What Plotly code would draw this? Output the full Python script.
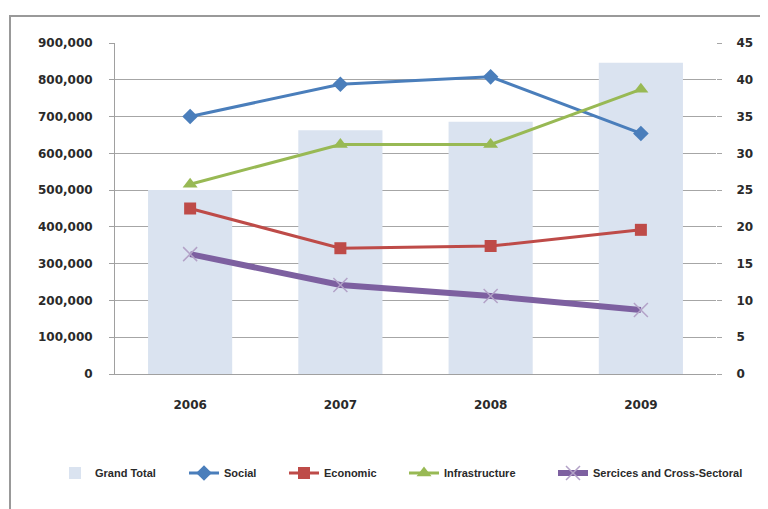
import plotly.graph_objects as go

years = ["2006", "2007", "2008", "2009"]
grand_total = [500000, 663000, 686000, 846000]
social = [35.0, 39.4, 40.4, 32.7]
economic = [22.5, 17.1, 17.4, 19.6]
infrastructure = [25.8, 31.2, 31.2, 38.7]
services = [16.3, 12.1, 10.6, 8.7]

left_ticks = [0, 100000, 200000, 300000, 400000, 500000, 600000, 700000, 800000, 900000]
left_labels = ["0", "100,000", "200,000", "300,000", "400,000", "500,000", "600,000", "700,000", "800,000", "900,000"]
right_ticks = [0, 5, 10, 15, 20, 25, 30, 35, 40, 45]

W, H = 760, 501
L, R, T, B = 107, 52, 35, 135
PW = W - L - R
PH = H - T - B

tick_font = dict(size=12, family="DejaVu Sans", color="#2a2a2a", weight="bold")
leg_font = dict(size=11, family="Liberation Sans, Arial", color="#2a2a2a", weight="bold")


def px_to_paper_x(px):
    return (px - L) / PW


# text start positions of the legend entries (figure pixels)
leg_text_x = [89, 218, 318, 438, 587]
leg_y = (H - B - 465) / PH

fig = go.Figure()
fig.add_trace(go.Bar(x=years, y=grand_total, name="Grand Total",
                     marker=dict(color="#DAE3F0", line=dict(width=0)), width=0.56,
                     legend="legend", showlegend=True))
fig.add_trace(go.Scatter(x=years, y=social, name="Social", yaxis="y2", mode="lines+markers",
                         line=dict(color="#4A7EBB", width=3),
                         marker=dict(symbol="diamond", size=12, color="#4A7EBB"),
                         legend="legend2"))
fig.add_trace(go.Scatter(x=years, y=economic, name="Economic", yaxis="y2", mode="lines+markers",
                         line=dict(color="#BE4B48", width=3),
                         marker=dict(symbol="square", size=12, color="#BE4B48"),
                         legend="legend3"))
fig.add_trace(go.Scatter(x=years, y=infrastructure, name="Infrastructure", yaxis="y2", mode="lines+markers",
                         line=dict(color="#98B954", width=3),
                         marker=dict(symbol="triangle-up", size=13, color="#98B954"),
                         legend="legend4"))
fig.add_trace(go.Scatter(x=years, y=services, name="Sercices and Cross-Sectoral", yaxis="y2", mode="lines+markers",
                         line=dict(color="#7D60A0", width=6),
                         marker=dict(symbol="x-thin", size=14, color="#B3A2C7",
                                     line=dict(width=1.5, color="#B3A2C7")),
                         legend="legend5"))

legends = {}
for i, tx in enumerate(leg_text_x):
    key = "legend" if i == 0 else "legend%d" % (i + 1)
    legends[key] = dict(orientation="h", x=px_to_paper_x(tx - 42), y=leg_y,
                        xanchor="left", yanchor="middle", font=leg_font,
                        bgcolor="rgba(0,0,0,0)", borderwidth=0)

fig.update_layout(
    width=W, height=H,
    showlegend=True,
    margin=dict(l=L, r=R, t=T, b=B),
    paper_bgcolor="white", plot_bgcolor="white",
    font=dict(family="DejaVu Sans", size=11, color="#2a2a2a"),
    xaxis=dict(showgrid=False, showline=True, linecolor="#A0A0A0", ticks="",
               tickfont=tick_font, ticklabelstandoff=20),
    yaxis=dict(range=[0, 900000], tickvals=left_ticks, ticktext=left_labels,
               showgrid=True, gridcolor="#A6A6A6", gridwidth=1,
               showline=True, linecolor="#A0A0A0", ticks="outside", ticklen=5, tickcolor="#A0A0A0",
               tickfont=tick_font, ticklabelstandoff=14, zeroline=False),
    yaxis2=dict(range=[0, 45], tickvals=right_ticks, overlaying="y", side="right",
                showgrid=False, showline=False, ticks="outside", ticklen=5, tickcolor="#A6A6A6",
                tickfont=tick_font, ticklabelstandoff=12, zeroline=False),
    shapes=[dict(type="rect", xref="paper", yref="paper",
                 x0=px_to_paper_x(2), x1=1.3, y0=-0.6, y1=1 + (T - 8) / PH,
                 line=dict(color="#999999", width=2), fillcolor="rgba(0,0,0,0)", layer="below")],
    **legends,
)

fig.write_html("out.html")
